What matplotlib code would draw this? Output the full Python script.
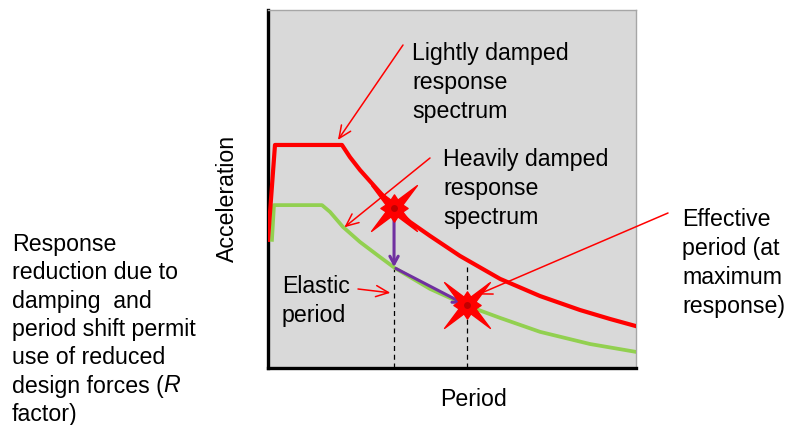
#!/usr/bin/env python
import matplotlib
matplotlib.use('Agg')
import matplotlib.pyplot as plt
from matplotlib.path import Path
import numpy as np

plt.rcParams['font.family'] = ['Liberation Sans', 'DejaVu Sans']

# espectro poco amortiguado (rojo)
period_light = [0.0, 0.076, 0.804, 0.891, 1.0, 1.163, 1.359, 1.543, 1.761, 2.087,
                2.522, 2.957, 3.391, 3.717, 4.0]
accel_light = [0.358, 0.623, 0.623, 0.589, 0.553, 0.506, 0.450, 0.408, 0.369, 0.313,
               0.249, 0.201, 0.162, 0.137, 0.117]

# espectro muy amortiguado (verde)
period_heavy = [0.043, 0.065, 0.587, 0.674, 0.815, 1.0, 1.217, 1.380, 1.761, 2.174,
                2.522, 2.957, 3.5, 4.0]
accel_heavy = [0.358, 0.455, 0.455, 0.436, 0.394, 0.352, 0.310, 0.279, 0.221, 0.173,
               0.140, 0.101, 0.067, 0.045]

# periodos y puntos de respuesta
elastic_T = 1.37
effective_T = 2.165
elastic_A_light = 0.447
elastic_A_heavy = 0.280
effective_A = 0.175
dash_top = [0.280, 0.282]

left_lines = ['Response', 'reduction due to', 'damping  and', 'period shift permit',
              'use of reduced', 'design forces (', 'factor)']

red = '#FF0000'
green = '#92D050'
purple = '#7030A0'
fs = 16.7
ls = 1.33

fig = plt.figure(figsize=(7.87, 4.25), dpi=100)
ax = fig.add_axes([268 / 787, 1 - 368 / 425, 368 / 787, 358 / 425])
ax.set_facecolor('#D9D9D9')
ax.set_xlim(0, 4)
ax.set_ylim(0, 1)
ax.set_xticks([])
ax.set_yticks([])
for s in ['left', 'bottom']:
    ax.spines[s].set_linewidth(2.4)
    ax.spines[s].set_color('black')
for s in ['top', 'right']:
    ax.spines[s].set_linewidth(1.0)
    ax.spines[s].set_color('#A6A6A6')

# lineas punteadas de periodo
ax.plot([elastic_T, elastic_T], [0, dash_top[0]], color='black', ls=(0, (4, 3)), lw=0.9, zorder=2)
ax.plot([effective_T, effective_T], [0, dash_top[1]], color='black', ls=(0, (4, 3)), lw=0.9, zorder=2)

ax.plot(period_heavy, accel_heavy, color=green, lw=2.7, solid_joinstyle='round', zorder=3)
ax.plot(period_light, accel_light, color=red, lw=3.0, solid_joinstyle='round', zorder=3)

# flechas moradas
purple_arrow = dict(arrowstyle='->,head_length=0.55,head_width=0.3', color=purple, lw=2.2,
                    shrinkA=0, shrinkB=0)
ax.annotate('', xy=(elastic_T, elastic_A_heavy + 0.002), xytext=(elastic_T, elastic_A_light),
            arrowprops=purple_arrow, zorder=4)
ax.annotate('', xy=(effective_T - 0.04, effective_A + 0.005), xytext=(elastic_T + 0.02, elastic_A_heavy - 0.002),
            arrowprops=purple_arrow, zorder=4)

# estrellas (4 puntas largas y 4 cortas)
ang = np.arange(16) * np.pi / 8 + np.pi / 4
rad = []
for i in range(16):
    if i % 4 == 0:
        rad.append(1.0)
    elif i % 2 == 0:
        rad.append(0.42)
    else:
        rad.append(0.28)
verts = [(r * np.cos(a), r * np.sin(a)) for r, a in zip(rad, ang)]
verts.append(verts[0])
star = Path(verts, closed=True)
for (sx, sy) in [(elastic_T, elastic_A_light), (effective_T, effective_A)]:
    ax.plot([sx], [sy], marker=star, markersize=33, color=red, mec=red, zorder=5)
    ax.plot([sx], [sy], marker='o', markersize=5, color='#C00000', mec='none', zorder=6)


def fpos(px, py):
    return (px / 787, 1 - py / 425)


arrow_red = dict(arrowstyle='->,head_length=0.9,head_width=0.4', color=red, lw=1.1,
                 shrinkA=0, shrinkB=0)
ax.annotate('', xy=(0.76, 0.637), xytext=fpos(403, 45), textcoords='figure fraction',
            arrowprops=arrow_red, zorder=7, annotation_clip=False)
ax.annotate('', xy=(0.83, 0.393), xytext=fpos(430, 158), textcoords='figure fraction',
            arrowprops=arrow_red, zorder=7, annotation_clip=False)
ax.annotate('', xy=(1.33, 0.21), xytext=fpos(358, 289), textcoords='figure fraction',
            arrowprops=arrow_red, zorder=7, annotation_clip=False)
ax.annotate('', xy=(2.28, 0.205), xytext=fpos(668, 213), textcoords='figure fraction',
            arrowprops=arrow_red, zorder=7, annotation_clip=False)

txt = dict(fontsize=fs, linespacing=ls, ha='left', va='top', color='black')
fig.text(*fpos(412, 42), 'Lightly damped\nresponse\nspectrum', **txt)
fig.text(*fpos(443, 148), 'Heavily damped\nresponse\nspectrum', **txt)
fig.text(*fpos(282, 275), 'Elastic\nperiod', **txt)
fig.text(*fpos(682, 208), 'Effective\nperiod (at\nmaximum\nresponse)', **txt)

# texto de la izquierda, una linea cada vez
renderer = fig.canvas.get_renderer()
for i, line in enumerate(left_lines):
    t = fig.text(*fpos(12, 233 + i * 28.3), line, **txt)
    if line.endswith('('):
        bb = t.get_window_extent(renderer)
        fig.text(bb.x1 / 787, fpos(12, 233 + i * 28.3)[1], 'R', style='italic', **txt)

fig.text(*fpos(227, 198), 'Acceleration', fontsize=fs, rotation=90, ha='center', va='center')
fig.text(*fpos(473, 400), 'Period', fontsize=fs, ha='center', va='center')

fig.savefig('out.png', dpi=100)
